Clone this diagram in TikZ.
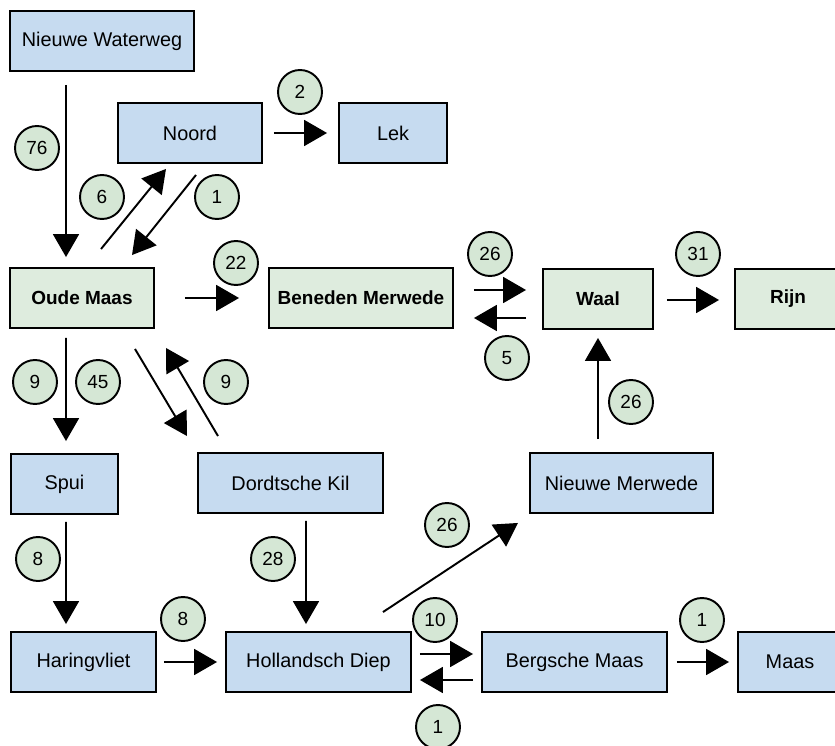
\documentclass[tikz,border=0pt]{standalone}
\usepackage{fontspec}
\setmainfont{Liberation Sans}
\usepackage{xcolor}
\usepackage{tikz}
\usetikzlibrary{arrows.meta}
\usetikzlibrary{calc}
\definecolor{riverblue}{RGB}{198,219,240}
\definecolor{rivergreen}{RGB}{222,236,222}
\definecolor{flowgreen}{RGB}{213,231,213}

\begin{document}
\begin{tikzpicture}[x=0.02cm,y=-0.02cm,
        font=\fontsize{11.3}{13}\selectfont,
        box/.style={draw=black,line width=1.1pt,minimum height=1.2cm,inner sep=0pt},
        bluebox/.style={box,fill=riverblue},
        greenbox/.style={box,fill=rivergreen,font=\fontsize{10.8}{13}\selectfont\bfseries},
        flownum/.style={circle,draw=black,line width=1.1pt,fill=flowgreen,minimum size=0.88cm,inner sep=0pt,font=\fontsize{10.8}{13}\selectfont},
        flow/.style={line width=1.1pt,-{Triangle[length=0.46cm,width=0.52cm]}}]
        \useasboundingbox (0,0) rectangle (835,746);
        \clip (0,0) rectangle (835,746);

        %%% RIVERS %%%
        \node[bluebox,minimum width=3.68cm] (nww) at (102,41) {Nieuwe Waterweg};
        \node[bluebox,minimum width=2.88cm] (noord) at (190,133) {Noord};
        \node[bluebox,minimum width=2.16cm] (lek) at (393,133) {Lek};
        \node[greenbox,minimum width=2.88cm] (oude) at (82,298) {Oude Maas};
        \node[greenbox,minimum width=3.68cm] (beneden) at (361,298) {Beneden Merwede};
        \node[greenbox,minimum width=2.2cm] (waal) at (598,299) {Waal};
        \node[greenbox,minimum width=2.12cm] (rijn) at (788,299) {Rijn};
        \node[bluebox,minimum width=2.14cm] (spui) at (64.5,484) {Spui};
        \node[bluebox,minimum width=3.7cm] (dordt) at (290.5,483) {Dordtsche Kil};
        \node[bluebox,minimum width=3.66cm] (nmerw) at (621.5,483) {Nieuwe Merwede};
        \node[bluebox,minimum width=2.9cm] (haring) at (83.5,662) {Haringvliet};
        \node[bluebox,minimum width=3.7cm] (holl) at (318.5,662) {Hollandsch Diep};
        \node[bluebox,minimum width=3.7cm] (bergs) at (574.5,662) {Bergsche Maas};
        \node[bluebox,minimum width=2.08cm] (maas) at (790,662) {Maas};

        %%% FLOWS %%%
        \draw[flow] ($(nww.south)+(-36,13)$) -- ($(oude.north)+(-16,-10)$);
        \draw[flow] ($(noord.east)+(11,0)$) -- ($(lek.west)+(-11,0)$);
        \draw[flow] ($(oude.north)+(19,-18)$) -- ($(noord.south)+(-24,5)$);
        \draw[flow] ($(noord.south)+(6,11)$) -- ($(oude.north)+(50,-12)$);
        \draw[flow] ($(oude.east)+(30,0)$) -- ($(beneden.west)+(-29,0)$);
        \draw[flow] ($(beneden.east)+(20,-8)$) -- ($(waal.west)+(-16,-9)$);
        \draw[flow] ($(waal.west)+(-16,19)$) -- ($(beneden.east)+(20,20)$);
        \draw[flow] ($(waal.east)+(13,1)$) -- ($(rijn.west)+(-15,1)$);
        \draw[flow] ($(nmerw.north)+(-23.5,-13)$) -- ($(waal.south)+(0,8)$);
        \draw[flow] ($(oude.south)+(-16,9)$) -- ($(spui.north)+(1.5,-12)$);
        \draw[flow] ($(oude.south)+(53,20)$) -- ($(dordt.north)+(-103.5,-16)$);
        \draw[flow] ($(dordt.north)+(-72.5,-16)$) -- ($(oude.south)+(84,19)$);
        \draw[flow] ($(spui.south)+(1.5,7)$) -- ($(haring.north)+(-17.5,-7)$);
        \draw[flow] ($(dordt.south)+(15.5,7)$) -- ($(holl.north)+(-12.5,-7)$);
        \draw[flow] ($(haring.east)+(7,0)$) -- ($(holl.west)+(-8,0)$);
        \draw[flow] ($(holl.north)+(64.5,-19)$) -- ($(nmerw.south)+(-103.5,9)$);
        \draw[flow] ($(holl.east)+(8,-8)$) -- ($(bergs.west)+(-8,-8)$);
        \draw[flow] ($(bergs.west)+(-8,18)$) -- ($(holl.east)+(8,18)$);
        \draw[flow] ($(bergs.east)+(9,0)$) -- ($(maas.west)+(-8,0)$);

        %%% AMOUNTS %%%
        \node[flownum] (n76) at (37,148) {76};
        \node[flownum] (n6) at (102,197) {6};
        \node[flownum] (n1a) at (217,197) {1};
        \node[flownum] (n2) at (300,92) {2};
        \node[flownum] (n22) at (236,263) {22};
        \node[flownum] (n26a) at (490,254) {26};
        \node[flownum] (n31) at (698,254) {31};
        \node[flownum] (n5) at (507,358) {5};
        \node[flownum] (n26b) at (631,402) {26};
        \node[flownum] (n9a) at (35,382) {9};
        \node[flownum] (n45) at (98,382) {45};
        \node[flownum] (n9b) at (226,382) {9};
        \node[flownum] (n8a) at (38,559) {8};
        \node[flownum] (n28) at (273,559) {28};
        \node[flownum] (n8b) at (183,619) {8};
        \node[flownum] (n26c) at (447,525) {26};
        \node[flownum] (n10) at (435,620) {10};
        \node[flownum] (n1b) at (702,620) {1};
        \node[flownum] (n1c) at (438,727) {1};
\end{tikzpicture}
\end{document}
